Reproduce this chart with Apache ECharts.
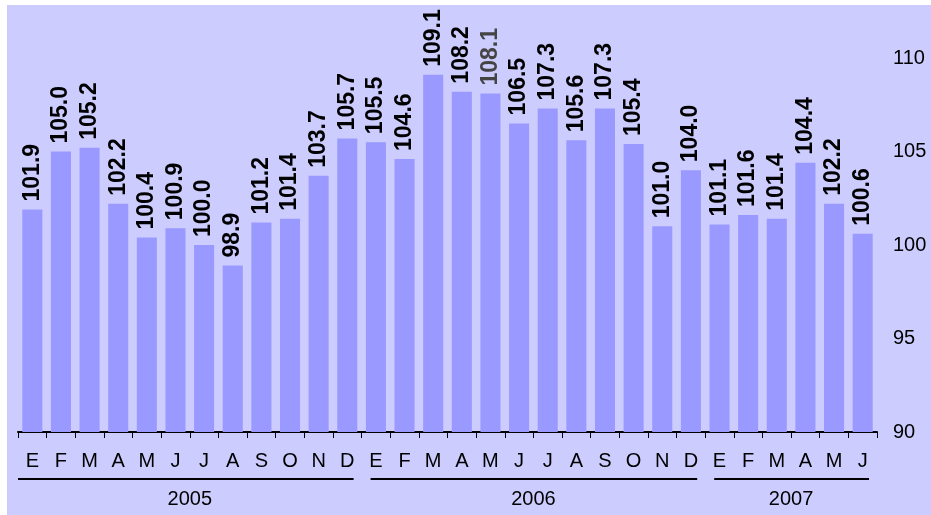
<!DOCTYPE html>
<html>
<head>
    <meta charset="utf-8">
    <title>Indice mensual</title>
    <script src="https://cdn.jsdelivr.net/npm/echarts@6/dist/echarts.min.js"></script>
    <style>
        html, body { margin: 0; padding: 0; background: #ffffff; }
        #main { position: absolute; left: 7px; top: 5px; width: 924px; height: 510px; }
    </style>
</head>
<body>
<div id="main"></div>
<script type="text/javascript">
    // meses (E = enero ... D = diciembre)
    var months = ['E', 'F', 'M', 'A', 'M', 'J', 'J', 'A', 'S', 'O', 'N', 'D',
                  'E', 'F', 'M', 'A', 'M', 'J', 'J', 'A', 'S', 'O', 'N', 'D',
                  'E', 'F', 'M', 'A', 'M', 'J'];
    var values = [101.9, 105.0, 105.2, 102.2, 100.4, 100.9, 100.0, 98.9, 101.2, 101.4, 103.7, 105.7,
                  105.5, 104.6, 109.1, 108.2, 108.1, 106.5, 107.3, 105.6, 107.3, 105.4, 101.0, 104.0,
                  101.1, 101.6, 101.4, 104.4, 102.2, 100.6];
    var years = ['2005', '2006', '2007'];
    var yearStart = [0, 12, 24];
    var yearEnd = [11, 23, 29];
    var yTicks = [90, 95, 100, 105, 110];

    var labelFont = '"Liberation Sans", Arial, sans-serif';

    var barData = values.map(function (v, i) {
        var item = {value: v};
        if (i === 16) {
            item.label = {color: '#444444'};
        }
        return item;
    });

    var yearData = years.map(function (y, i) {
        return [yearStart[i], yearEnd[i], y];
    });

    var myChart = echarts.init(document.getElementById('main'), null, {renderer: 'canvas'});

    var option = {
        backgroundColor: '#ccccff',
        animation: false,
        grid: {left: 11, right: 54, top: 53, bottom: 83},
        xAxis: {
            type: 'category',
            data: months,
            boundaryGap: true,
            axisLine: {lineStyle: {color: '#000000', width: 2}},
            axisTick: {show: true, length: 6, lineStyle: {color: '#000000', width: 1}},
            axisLabel: {
                color: '#000000', fontSize: 20, fontFamily: labelFont,
                margin: 19, interval: 0
            }
        },
        yAxis: {
            type: 'value',
            position: 'right',
            min: yTicks[0],
            max: yTicks[yTicks.length - 1],
            interval: 5,
            axisLine: {show: false},
            axisTick: {show: false},
            splitLine: {show: false},
            axisLabel: {
                color: '#000000', fontSize: 20, fontFamily: labelFont,
                margin: 16, align: 'left'
            }
        },
        series: [
            {
                type: 'bar',
                data: barData,
                barCategoryGap: '30%',
                itemStyle: {color: '#9999ff'},
                label: {
                    show: true,
                    position: 'top',
                    rotate: 90,
                    align: 'left',
                    verticalAlign: 'middle',
                    distance: 8,
                    color: '#000000',
                    fontSize: 23,
                    fontWeight: 'bold',
                    fontFamily: labelFont,
                    formatter: function (p) {
                        return p.value.toFixed(1);
                    }
                }
            },
            {
                type: 'custom',
                data: yearData,
                clip: false,
                silent: true,
                renderItem: function (params, api) {
                    var s = api.value(0), e = api.value(1);
                    var p0 = api.coord([s, yTicks[0]]);
                    var p1 = api.coord([e, yTicks[0]]);
                    var w = api.size([1, 0])[0];
                    var x0 = p0[0] - w / 2 + (s === 0 ? 0 : 9);
                    var x1 = p1[0] + w / 2 - 8;
                    var y = p0[1] + 47;
                    return {
                        type: 'group',
                        children: [
                            {
                                type: 'line',
                                shape: {x1: x0, y1: y, x2: x1, y2: y},
                                style: {stroke: '#000000', lineWidth: 2}
                            },
                            {
                                type: 'text',
                                style: {
                                    text: years[params.dataIndex],
                                    x: (p0[0] + p1[0]) / 2,
                                    y: y + 20,
                                    align: 'center',
                                    verticalAlign: 'middle',
                                    fill: '#000000',
                                    font: '20px ' + labelFont
                                }
                            }
                        ]
                    };
                }
            }
        ]
    };

    myChart.setOption(option);
</script>
</body>
</html>
